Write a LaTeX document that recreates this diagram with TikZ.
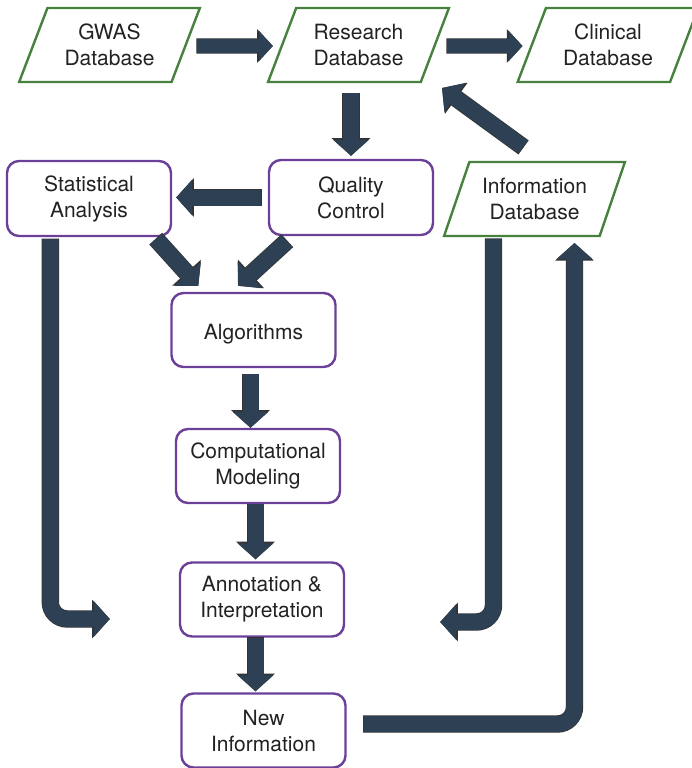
\documentclass[tikz,border=0pt]{standalone}
\usepackage{fontspec}
\setmainfont{TeX Gyre Heros}
\usetikzlibrary{shapes.geometric,arrows.meta,calc}
\definecolor{slate}{RGB}{46,64,83}
\definecolor{dbgreen}{RGB}{70,130,62}
\definecolor{procpurple}{RGB}{108,64,152}
\definecolor{txt}{RGB}{34,34,34}
\tikzset{
  base/.style={font=\fontsize{21}{26}\selectfont, text=txt, align=center,
    line width=2.4pt, fill=white, inner sep=0pt},
  db/.style={base, draw=dbgreen, trapezium, trapezium left angle=64,
    trapezium right angle=116, trapezium stretches=true,
    minimum width=181, minimum height=74},
  proc/.style={base, draw=procpurple, rounded corners=12pt,
    minimum width=164, minimum height=74},
  flow/.style={draw=slate, line width=16pt, -{Triangle[length=16pt,width=35pt]},
    preaction={draw=black!80, line width=17.4pt,
      -{Triangle[length=17.6pt,width=37.6pt]}, shorten <=-0.7pt}},
  flowsmall/.style={draw=slate, line width=14pt, -{Triangle[length=14pt,width=30pt]},
    preaction={draw=black!80, line width=15.4pt,
      -{Triangle[length=15.6pt,width=32.6pt]}, shorten <=-0.7pt}},
  loopflow/.style={flow, rounded corners=17pt},
}
\begin{document}
\begin{tikzpicture}[x=1pt,y=-1pt]
\useasboundingbox (0,0) rectangle (691,768);

% databases
\node[db] (gwas) at (109.5,45) {GWAS\\Database};
\node[db] (res)  at (358.5,45) {Research\\Database};
\node[db] (clin) at (608,45)   {Clinical\\Database};
\node[db] (info) at (534.5,199) {Information\\Database};

% processing steps
\node[proc, minimum height=75] (stat) at (89,198.5)  {Statistical\\Analysis};
\node[proc, minimum height=75] (qc)   at (351,197.5) {Quality\\Control};
\node[proc, text depth=0pt, text height=19pt] (alg) at (253.5,330) {Algorithms};
\node[proc] (comp) at (258,466)   {Computational\\Modeling};
\node[proc] (ann)  at (262,599.5) {Annotation \&\\Interpretation};
\node[proc] (new)  at (263.5,730.5) {New\\Information};

% free ends of the bent arrows
\coordinate (lin) at ($(ann.west)+(-69,19.5)$);
\coordinate (rin) at ($(ann.east)+(95,22.5)$);

% top row
\draw[flowsmall] ($(gwas.east)+(10,1)$) -- ($(res.west)+(-8,1)$);
\draw[flowsmall] ($(res.east)+(11,1)$) -- ($(clin.west)+(-8,1)$);
\draw[flow] ($(res.south -| qc.north)+(0,10)$) -- ($(qc.north)+(0,-3)$);
\draw[flow] ($(info.center)+(-11.5,-52)$) -- ($(res.center)+(83.5,43)$);

% middle
\draw[flow] ($(qc.west)+(-7,0)$) -- ($(stat.east)+(4,-1)$);
\draw[flow] ($(stat.south east)+(-16,2)$) -- ($(alg.north west)+(28,-6)$);
\draw[flow] ($(qc.south west)+(19,5)$) -- ($(alg.north)+(-15.5,-6)$);

% main column
\draw[flow] ($(alg.south)+(-3,6)$) -- ($(comp.north)+(-7.5,0)$);
\draw[flow] ($(comp.south)+(-2.5,0)$) -- ($(ann.north)+(-6.5,-2)$);
\draw[flow] ($(ann.south)+(-6.5,0)$) -- ($(new.north)+(-8,-1)$);

% side loops
\draw[loopflow] ($(stat.south west)+(44.5,2)$) |- (lin);
\draw[loopflow] ($(info.center)+(-41,40)$) |- (rin);
\draw[loopflow] ($(new.east)+(17,-6.5)$) -| ($(info.center)+(40,44)$);
\end{tikzpicture}
\end{document}
